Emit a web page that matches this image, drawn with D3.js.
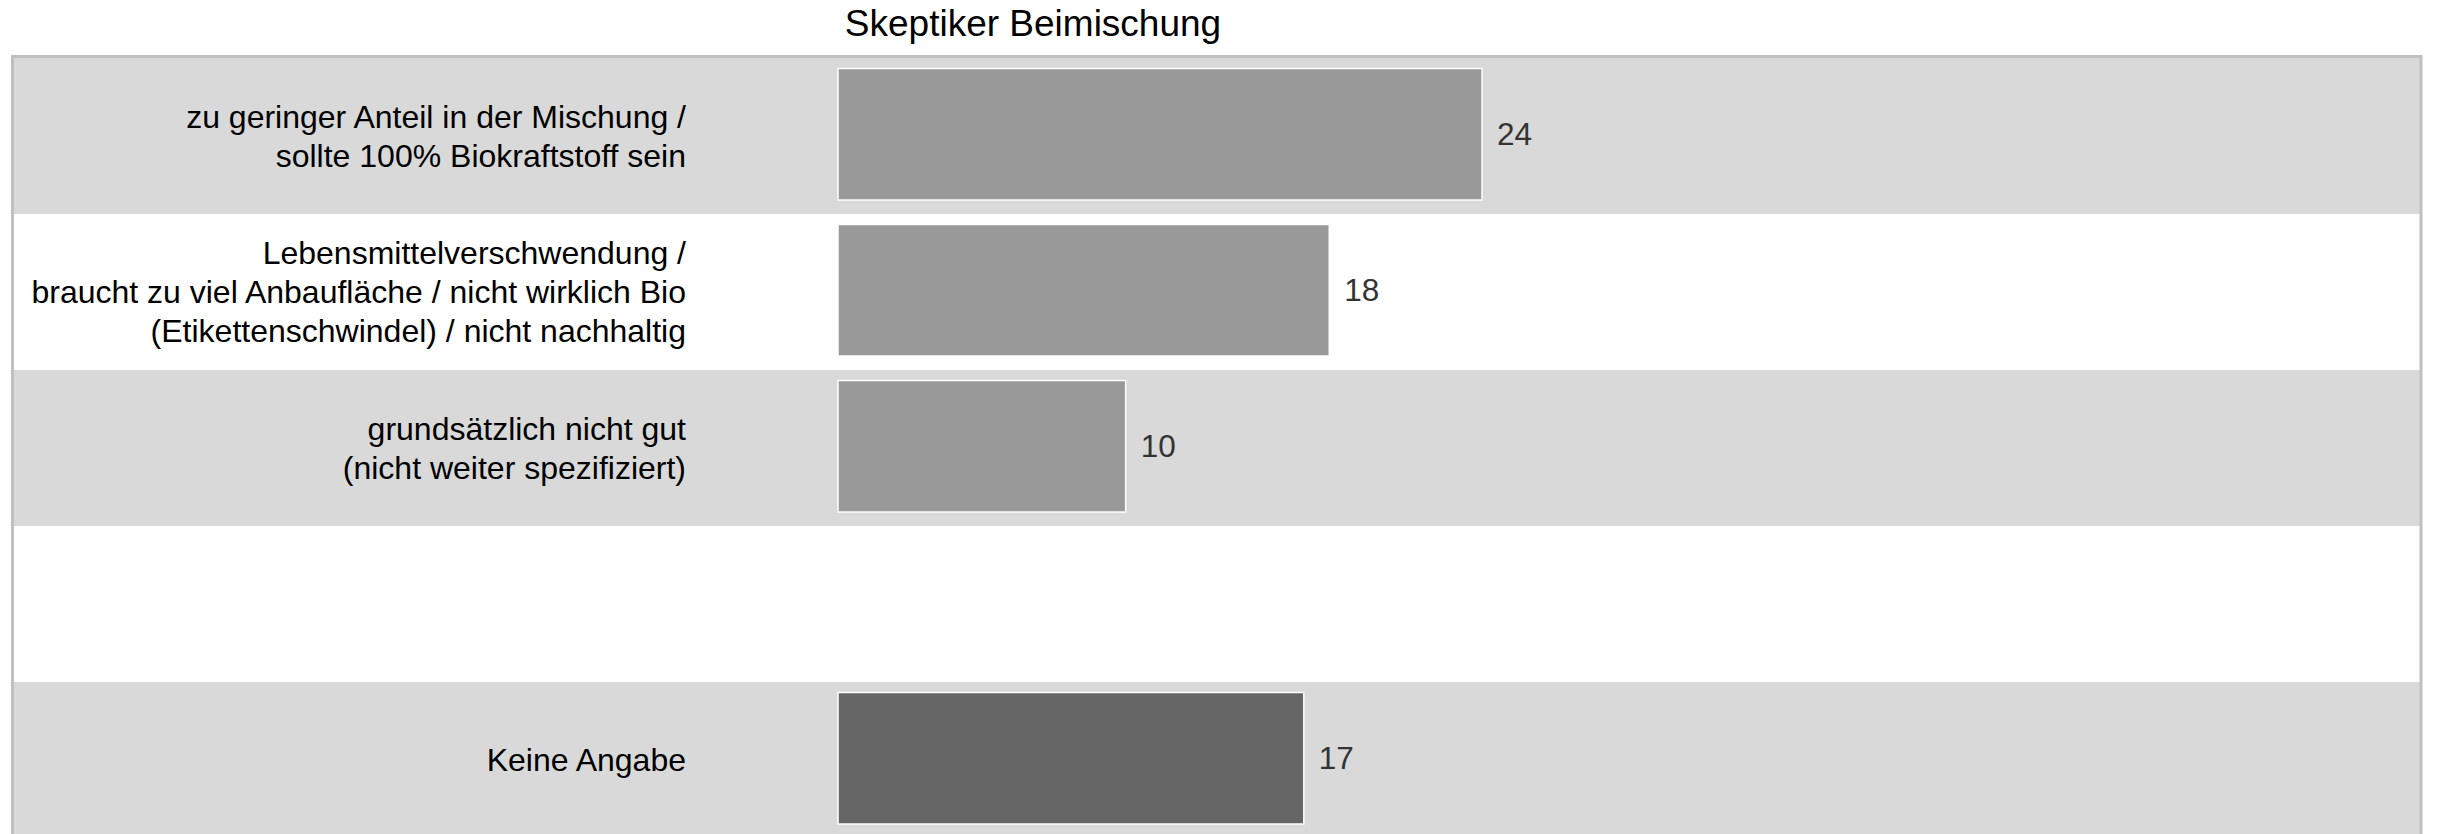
<!DOCTYPE html>
<html>
<head>
<meta charset="utf-8">
<script src="https://cdn.jsdelivr.net/npm/d3@7"></script>
<style>
  html, body { margin: 0; padding: 0; background: #ffffff; }
  svg { display: block; font-family: "Liberation Sans", Arial, sans-serif; }
</style>
</head>
<body>
<svg id="chart" width="2438" height="834"></svg>
<script>
// ---- data ----
const title = "Skeptiker Beimischung";
const categories = [
  "zu geringer Anteil in der Mischung /\nsollte 100% Biokraftstoff sein",
  "Lebensmittelverschwendung /\nbraucht zu viel Anbaufläche / nicht wirklich Bio\n(Etikettenschwindel) / nicht nachhaltig",
  "grundsätzlich nicht gut\n(nicht weiter spezifiziert)",
  "",
  "Keine Angabe"
];
const values = [24, 18, 10, null, 17];
const barGroups = ["reason", "reason", "reason", "none", "noanswer"];

// ---- layout ----
const W = 2438, H = 834;
const plot = { left: 12.5, right: 2421, top: 56.5, rowH: 156 };
const labelX = 686;
const svg = d3.select("#chart");

const y = d3.scaleBand()
  .domain(d3.range(categories.length))
  .range([plot.top + 1.5, plot.top + 1.5 + plot.rowH * categories.length])
  .padding(0);

const x = d3.scaleLinear()
  .domain([-1.3, d3.max(values)])
  .range([838, 1482]);

const color = d3.scaleOrdinal()
  .domain(["reason", "noanswer", "none"])
  .range(["#999999", "#666666", "none"]);

// row backgrounds
svg.append("g").selectAll("rect")
  .data(categories)
  .join("rect")
  .attr("x", plot.left)
  .attr("y", (d, i) => y(i))
  .attr("width", plot.right - plot.left)
  .attr("height", y.bandwidth())
  .attr("fill", (d, i) => i % 2 === 0 ? "#d9d9d9" : "#ffffff");

// plot border
svg.append("rect")
  .attr("x", plot.left)
  .attr("y", plot.top)
  .attr("width", plot.right - plot.left)
  .attr("height", H + 20)
  .attr("fill", "none")
  .attr("stroke", "#c0c0c0")
  .attr("stroke-width", 3);

// title
svg.append("text")
  .attr("x", 1033)
  .attr("y", 36)
  .attr("text-anchor", "middle")
  .attr("font-size", 37)
  .attr("fill", "#000")
  .text(title);

// category labels
const lineH = 39;
const lab = svg.append("g").selectAll("text")
  .data(categories)
  .join("text")
  .attr("text-anchor", "end")
  .attr("font-size", 32)
  .attr("fill", "#000");
lab.each(function(d, i) {
  const lines = d.split("\n");
  const cy = y(i) + y.bandwidth() / 2;
  const start = cy - (lines.length - 1) * lineH / 2;
  d3.select(this).selectAll("tspan")
    .data(lines)
    .join("tspan")
    .attr("x", labelX)
    .attr("y", (l, j) => start + j * lineH)
    .attr("dy", "0.35em")
    .text(l => l);
});

// bars
const barData = categories.map((c, i) => ({ i, v: values[i], g: barGroups[i] }))
  .filter(d => d.v != null);

svg.append("g").selectAll("rect")
  .data(barData)
  .join("rect")
  .attr("x", x.range()[0])
  .attr("y", d => y(d.i) + 10.5)
  .attr("width", d => x(d.v) - x.range()[0])
  .attr("height", 131.5)
  .attr("fill", d => color(d.g))
  .attr("stroke", "#ffffff")
  .attr("stroke-width", 1.5);

// value labels
svg.append("g").selectAll("text")
  .data(barData)
  .join("text")
  .attr("x", d => x(d.v) + 15)
  .attr("y", d => y(d.i) + 10.5 + 131.5 / 2)
  .attr("dy", "0.35em")
  .attr("font-size", 31.5)
  .attr("fill", "#333333")
  .text(d => d.v);
</script>
</body>
</html>
